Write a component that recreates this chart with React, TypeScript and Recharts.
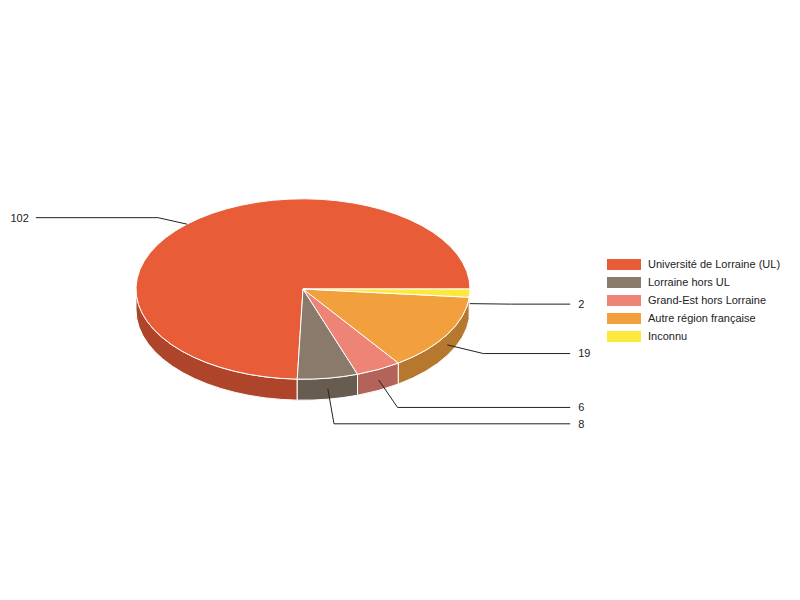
import { Legend, Pie, PieChart } from "recharts";

const categories = [
  "Université de Lorraine (UL)",
  "Lorraine hors UL",
  "Grand-Est hors Lorraine",
  "Autre région française",
  "Inconnu",
];
const counts = [102, 8, 6, 19, 2];
const colors = ["#e85c38", "#8a7a6c", "#ee8476", "#f2a03e", "#fde83e"];

const data = categories.map((name, i) => ({
  name,
  value: counts[i],
  fill: colors[i],
}));

const TILT = 0.54;
const DEPTH = 21;
const FONT = "Arial, 'Liberation Sans', sans-serif";
const RAD = Math.PI / 180;

const darken = (hex: string, k = 0.75) => {
  const n = parseInt(hex.slice(1), 16);
  const ch = (s: number) =>
    Math.round(((n >> s) & 255) * k)
      .toString(16)
      .padStart(2, "0");
  return `#${ch(16)}${ch(8)}${ch(0)}`;
};

const pt = (cx: number, cy: number, rx: number, ry: number, a: number) => [
  cx + rx * Math.cos(a * RAD),
  cy - ry * Math.sin(a * RAD),
];

// elliptical slice + visible side wall
const Slice3D = (props: any) => {
  const { cx, cy, outerRadius, startAngle, endAngle, fill } = props;
  const rx = outerRadius;
  const ry = outerRadius * TILT;
  const a0 = Math.min(startAngle, endAngle);
  const a1 = Math.max(startAngle, endAngle);
  const [x0, y0] = pt(cx, cy, rx, ry, a0);
  const [x1, y1] = pt(cx, cy, rx, ry, a1);
  const large = a1 - a0 > 180 ? 1 : 0;
  const top = `M${cx},${cy} L${x0},${y0} A${rx},${ry} 0 ${large} 0 ${x1},${y1} Z`;

  const s0 = Math.max(a0, 180);
  const s1 = Math.min(a1, 360);
  let side = null;
  if (s1 > s0) {
    const [p0x, p0y] = pt(cx, cy, rx, ry, s0);
    const [p1x, p1y] = pt(cx, cy, rx, ry, s1);
    side = (
      <path
        d={`M${p0x},${p0y} A${rx},${ry} 0 0 0 ${p1x},${p1y} L${p1x},${p1y + DEPTH} A${rx},${ry} 0 0 1 ${p0x},${p0y + DEPTH} Z`}
        fill={darken(fill)}
        stroke="#ffffff"
        strokeWidth={1}
      />
    );
  }
  return (
    <g>
      {side}
      <path d={top} fill={fill} stroke="#ffffff" strokeWidth={1} />
    </g>
  );
};

const renderLabel = (props: any) => {
  const { cx, cy, midAngle, outerRadius, value } = props;
  const rx = outerRadius;
  const ry = outerRadius * TILT;
  const s = Math.sin(midAngle * RAD);
  const c = Math.cos(midAngle * RAD);
  const front = s < 0;
  const ax = cx + rx * c;
  const ay = cy - ry * s + (front ? DEPTH / 2 : 0);
  const k = front ? 1.12 + 0.28 * s * s : 1.1;
  const ly = cy - ry * s * k + (front ? DEPTH / 2 : 0);
  const ex = cx + rx * 1.25 * c;
  const right = c >= 0;
  const endX = cx + (right ? 1 : -1) * rx * 1.6;
  const tx = endX + (right ? 8 : -7);
  return (
    <g>
      <polyline
        points={`${ax},${ay} ${ex},${ly} ${endX},${ly}`}
        fill="none"
        stroke="#222222"
        strokeWidth={1}
      />
      <text
        x={tx}
        y={ly}
        dy="0.35em"
        textAnchor={right ? "start" : "end"}
        fontSize={11}
        fontFamily={FONT}
        fill="#222222"
      >
        {value}
      </text>
    </g>
  );
};

const LegendContent = ({ payload }: any) => {
  const items = [...(payload || [])].sort(
    (a: any, b: any) => categories.indexOf(a.value) - categories.indexOf(b.value)
  );
  return (
    <div>
      {items.map((entry: any) => (
        <div
          key={entry.value}
          style={{ display: "flex", alignItems: "center", height: 18 }}
        >
          <span
            style={{
              display: "inline-block",
              width: 34,
              height: 11,
              background: entry.color,
              marginRight: 7,
            }}
          />
          <span style={{ fontSize: 11, fontFamily: FONT, color: "#222222" }}>
            {entry.value}
          </span>
        </div>
      ))}
    </div>
  );
};

export default function App() {
  return (
    <div
      style={{
        position: "absolute",
        left: 0,
        top: 0,
        width: 800,
        height: 600,
        background: "#ffffff",
      }}
    >
      <PieChart
        width={800}
        height={600}
        margin={{ top: 0, right: 0, bottom: 0, left: 0 }}
      >
        <Pie
          data={data}
          dataKey="value"
          nameKey="name"
          cx={303}
          cy={289}
          outerRadius={167}
          startAngle={0}
          endAngle={360}
          shape={Slice3D}
          label={renderLabel}
          labelLine={false}
          isAnimationActive={false}
        />
        <Legend
          layout="vertical"
          verticalAlign="top"
          align="right"
          itemSorter={null}
          content={<LegendContent />}
          wrapperStyle={{ left: 607, top: 255, width: 190 }}
        />
      </PieChart>
    </div>
  );
}
